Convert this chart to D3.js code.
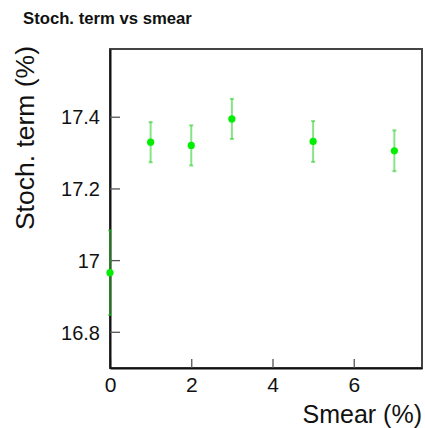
<!DOCTYPE html>
<html>
<head>
<meta charset="utf-8">
<script src="https://cdn.jsdelivr.net/npm/d3@7"></script>
<style>
  html, body { margin: 0; padding: 0; background: #fff; }
  svg { display: block; font-family: "Liberation Sans", Arial, Helvetica, sans-serif; }
</style>
</head>
<body>
<svg id="chart" width="425" height="428"></svg>
<script>
// Smear values (%) and fitted stochastic term (%) with its uncertainty
const smear = [0, 1, 2, 3, 5, 7];
const stochTerm = [16.965, 17.329, 17.320, 17.394, 17.331, 17.305];
const stochErr = [0.118, 0.056, 0.056, 0.056, 0.057, 0.057];
const xTicks = [0, 2, 4, 6];
const yTicks = [16.8, 17.0, 17.2, 17.4];
const yTickLabels = ["16.8", "17", "17.2", "17.4"];

const svg = d3.select("#chart");
const frame = { left: 110, right: 422, top: 49, bottom: 368 };

const x = d3.scaleLinear().domain([0, 7.68]).range([frame.left, frame.right]);
const y = d3.scaleLinear().domain([16.699, 17.589]).range([frame.bottom, frame.top]);

// Title
svg.append("text")
  .attr("x", 23).attr("y", 24)
  .attr("font-size", 16.7).attr("font-weight", "bold")
  .attr("fill", "#111")
  .text("Stoch. term vs smear");

// Frame (top/right edges)
svg.append("rect")
  .attr("x", frame.left).attr("y", frame.top)
  .attr("width", frame.right - frame.left).attr("height", frame.bottom - frame.top)
  .attr("fill", "none").attr("stroke", "#444").attr("stroke-width", 2);

// Bottom axis: ticks point inward (up)
const xAxis = d3.axisBottom(x).tickValues(xTicks).tickSizeInner(-9).tickSizeOuter(0).tickPadding(0)
  .tickFormat(d3.format("d"));
const gx = svg.append("g").attr("transform", `translate(0,${frame.bottom})`).call(xAxis);
gx.select(".domain").attr("stroke", "#111").attr("stroke-width", 2);
gx.selectAll(".tick line").attr("stroke", "#555").attr("stroke-width", 1.3);
gx.selectAll(".tick text")
  .attr("font-size", 21).attr("fill", "#111")
  .attr("y", 23.5).attr("dy", 0);

// Left axis: ticks point inward (right)
const yAxis = d3.axisLeft(y).tickValues(yTicks).tickSizeInner(-10).tickSizeOuter(0).tickPadding(0)
  .tickFormat((d, i) => yTickLabels[i]);
const gy = svg.append("g").attr("transform", `translate(${frame.left},0)`).call(yAxis);
gy.select(".domain").attr("stroke", "#111").attr("stroke-width", 2);
gy.selectAll(".tick line").attr("stroke", "#555").attr("stroke-width", 1.3);
gy.selectAll(".tick text")
  .attr("font-size", 20).attr("fill", "#111")
  .attr("x", -10).attr("dy", "0.36em");

// Axis titles
svg.append("text")
  .attr("x", frame.right).attr("y", 423)
  .attr("text-anchor", "end")
  .attr("font-size", 25).attr("fill", "#111")
  .text("Smear (%)");

svg.append("text")
  .attr("transform", `translate(34,${frame.top - 3}) rotate(-90)`)
  .attr("text-anchor", "end")
  .attr("font-size", 26.5).attr("fill", "#111")
  .text("Stoch. term (%)");

// Data: error bars and markers
const pts = smear.map((s, i) => ({ s, v: stochTerm[i], e: stochErr[i] }));
const bars = svg.append("g")
  .attr("stroke", "#22cc22").attr("stroke-opacity", 0.55).attr("stroke-width", 2);
bars.selectAll("line.err").data(pts).join("line")
  .attr("class", "err")
  .attr("x1", d => x(d.s)).attr("x2", d => x(d.s))
  .attr("y1", d => y(d.v + d.e)).attr("y2", d => y(d.v - d.e));
bars.selectAll("line.capTop").data(pts).join("line")
  .attr("class", "capTop")
  .attr("x1", d => x(d.s) - 2).attr("x2", d => x(d.s) + 2)
  .attr("y1", d => y(d.v + d.e)).attr("y2", d => y(d.v + d.e));
bars.selectAll("line.capBot").data(pts).join("line")
  .attr("class", "capBot")
  .attr("x1", d => x(d.s) - 2).attr("x2", d => x(d.s) + 2)
  .attr("y1", d => y(d.v - d.e)).attr("y2", d => y(d.v - d.e));

svg.append("g").selectAll("circle").data(pts).join("circle")
  .attr("cx", d => x(d.s)).attr("cy", d => y(d.v))
  .attr("r", 3.6).attr("fill", "#00ee00");
</script>
</body>
</html>
